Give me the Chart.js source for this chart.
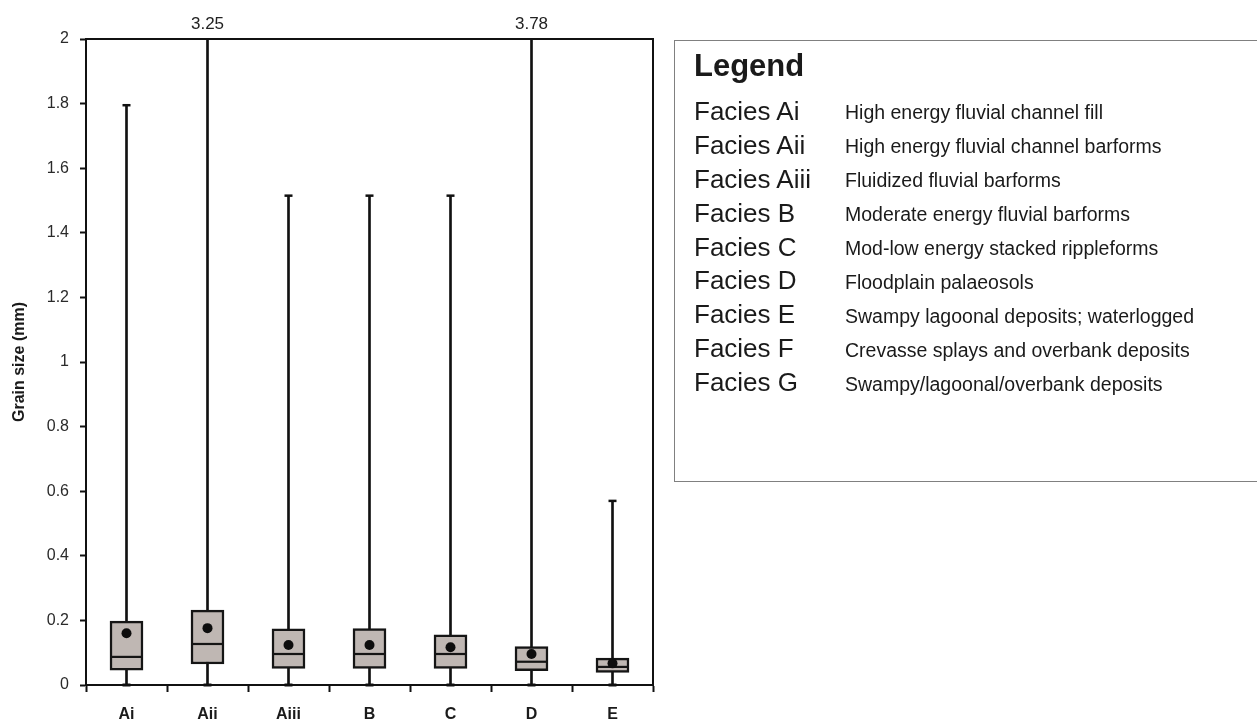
<!DOCTYPE html>
<html>
<head>
<meta charset="utf-8">
<script src="https://cdn.jsdelivr.net/npm/chart.js@4.4.0/dist/chart.umd.min.js"></script>
<style>
  html, body { margin: 0; padding: 0; background: #fff; overflow: hidden; }
  #wrap { position: relative; width: 1257px; height: 722px; }
  #c { position: absolute; left: 0; top: 0; }
  #legendBox { position: absolute; left: 674px; top: 40px; width: 700px; height: 442px;
    border: 1.5px solid #808080; box-sizing: border-box; }
  .lt { position: absolute; white-space: nowrap; font-family: "Liberation Sans", Arial, sans-serif; color: #1a1a1a; }
</style>
</head>
<body>
<div id="wrap">
  <canvas id="c" width="1257" height="722"></canvas>
  <div id="legendBox"></div>
  <div id="legendText"></div>
</div>
<script>
// ---- data ----
const categories = ['Ai', 'Aii', 'Aiii', 'B', 'C', 'D', 'E'];
const minValues = [0, 0, 0, 0, 0, 0, 0];
const q1Values = [0.046, 0.065, 0.051, 0.051, 0.051, 0.044, 0.039];
const medianValues = [0.087, 0.127, 0.096, 0.096, 0.096, 0.072, 0.056];
const q3Values = [0.198, 0.232, 0.174, 0.175, 0.155, 0.119, 0.083];
const maxValues = [1.795, 3.25, 1.515, 1.515, 1.515, 3.78, 0.57];
const meanValues = [0.160, 0.176, 0.124, 0.124, 0.117, 0.096, 0.067];
const yAxisMin = 0;
const yAxisMax = 2;
const yAxisStep = 0.2;
const yAxisTitle = 'Grain size (mm)';
const legendTitle = 'Legend';
const faciesNames = ['Facies Ai', 'Facies Aii', 'Facies Aiii', 'Facies B', 'Facies C', 'Facies D', 'Facies E', 'Facies F', 'Facies G'];
const faciesDescriptions = [
  'High energy fluvial channel fill',
  'High energy fluvial channel barforms',
  'Fluidized fluvial barforms',
  'Moderate energy fluvial barforms',
  'Mod-low energy stacked rippleforms',
  'Floodplain palaeosols',
  'Swampy lagoonal deposits; waterlogged',
  'Crevasse splays and overbank deposits',
  'Swampy/lagoonal/overbank deposits'
];

// ---- legend (HTML text) ----
(function () {
  const host = document.getElementById('legendText');
  function add(text, left, baseline, size, bold) {
    const d = document.createElement('div');
    d.className = 'lt';
    d.textContent = text;
    d.style.left = left + 'px';
    d.style.fontSize = size + 'px';
    d.style.lineHeight = size + 'px';
    d.style.fontWeight = bold ? 'bold' : 'normal';
    d.style.top = (baseline - size * 0.8465) + 'px';
    host.appendChild(d);
  }
  add(legendTitle, 694, 76, 31, true);
  faciesNames.forEach((n, i) => {
    const base = 120 + i * 33.9;
    add(n, 694, base, 26, false);
    add(faciesDescriptions[i], 845, base, 19.5, false);
  });
})();

// ---- chart ----
const frameAndOverflow = {
  id: 'frameAndOverflow',
  afterDraw(chart) {
    const { ctx, chartArea: a, scales: { x, y } } = chart;
    ctx.save();
    ctx.strokeStyle = '#111';
    ctx.lineWidth = 2;
    ctx.beginPath();
    ctx.moveTo(a.left, a.top);
    ctx.lineTo(a.right, a.top);
    ctx.lineTo(a.right, a.bottom);
    ctx.stroke();
    ctx.fillStyle = '#222';
    ctx.font = '17px "Liberation Sans", Arial, sans-serif';
    ctx.textAlign = 'center';
    ctx.textBaseline = 'middle';
    maxValues.forEach((v, i) => {
      if (v > y.max) {
        ctx.fillText(String(v), x.getPixelForValue(i), a.top - 15);
      }
    });
    ctx.restore();
  }
};

const clipBox = { left: 10, right: 10, top: 0, bottom: 10 };

new Chart(document.getElementById('c'), {
  type: 'bar',
  data: {
    labels: categories,
    datasets: [
      {
        label: 'whisker',
        data: categories.map((c, i) => [minValues[i], maxValues[i]]),
        backgroundColor: '#111',
        borderWidth: 0,
        barThickness: 2,
        grouped: false,
        clip: clipBox,
        order: 10
      },
      {
        label: 'box',
        data: categories.map((c, i) => [q1Values[i], q3Values[i]]),
        backgroundColor: '#bfb7b3',
        borderColor: '#151515',
        borderWidth: 2.5,
        borderSkipped: false,
        barThickness: 33,
        grouped: false,
        clip: clipBox,
        order: 8
      },
      {
        type: 'line',
        label: 'maxCap',
        data: maxValues,
        showLine: false,
        pointStyle: 'line',
        pointRadius: 4,
        pointBorderWidth: 2.5,
        pointBorderColor: '#111',
        clip: clipBox,
        order: 9
      },
      {
        type: 'line',
        label: 'minCap',
        data: minValues,
        showLine: false,
        pointStyle: 'line',
        pointRadius: 4,
        pointBorderWidth: 3,
        pointBorderColor: '#111',
        clip: clipBox,
        order: 9
      },
      {
        type: 'line',
        label: 'median',
        data: medianValues,
        showLine: false,
        pointStyle: 'line',
        pointRadius: 15.5,
        pointBorderWidth: 2.2,
        pointBorderColor: '#151515',
        clip: clipBox,
        order: 5
      },
      {
        type: 'line',
        label: 'mean',
        data: meanValues,
        showLine: false,
        pointStyle: 'circle',
        pointRadius: 5,
        pointBorderWidth: 0,
        pointBackgroundColor: '#0d0d0d',
        clip: clipBox,
        order: 1
      }
    ]
  },
  options: {
    responsive: false,
    animation: false,
    events: [],
    layout: { padding: { top: 39, right: 604, left: 0, bottom: 0 } },
    plugins: { legend: { display: false }, tooltip: { enabled: false } },
    scales: {
      x: {
        type: 'category',
        offset: true,
        afterFit(s) { s.height = 37; },
        grid: { display: true, drawOnChartArea: false, offset: true, tickLength: 7, tickWidth: 2, tickColor: '#111' },
        border: { display: true, color: '#111', width: 2 },
        ticks: { color: '#1a1a1a', padding: 13, font: { family: '"Liberation Sans", Arial, sans-serif', size: 16, weight: 'bold' } }
      },
      y: {
        min: yAxisMin,
        max: yAxisMax,
        afterFit(s) { s.width = 86; },
        grid: { display: true, drawOnChartArea: false, tickLength: 6, tickWidth: 2, tickColor: '#111' },
        border: { display: true, color: '#111', width: 2 },
        ticks: {
          stepSize: yAxisStep,
          color: '#2a2a2a',
          padding: 11,
          font: { family: '"Liberation Sans", Arial, sans-serif', size: 16 },
          callback: v => String(+Number(v).toFixed(1))
        },
        title: {
          display: true,
          text: yAxisTitle,
          color: '#1a1a1a',
          padding: { top: 10, bottom: 0 },
          font: { family: '"Liberation Sans", Arial, sans-serif', size: 16, weight: 'bold' }
        }
      }
    }
  },
  plugins: [frameAndOverflow]
});
</script>
</body>
</html>
